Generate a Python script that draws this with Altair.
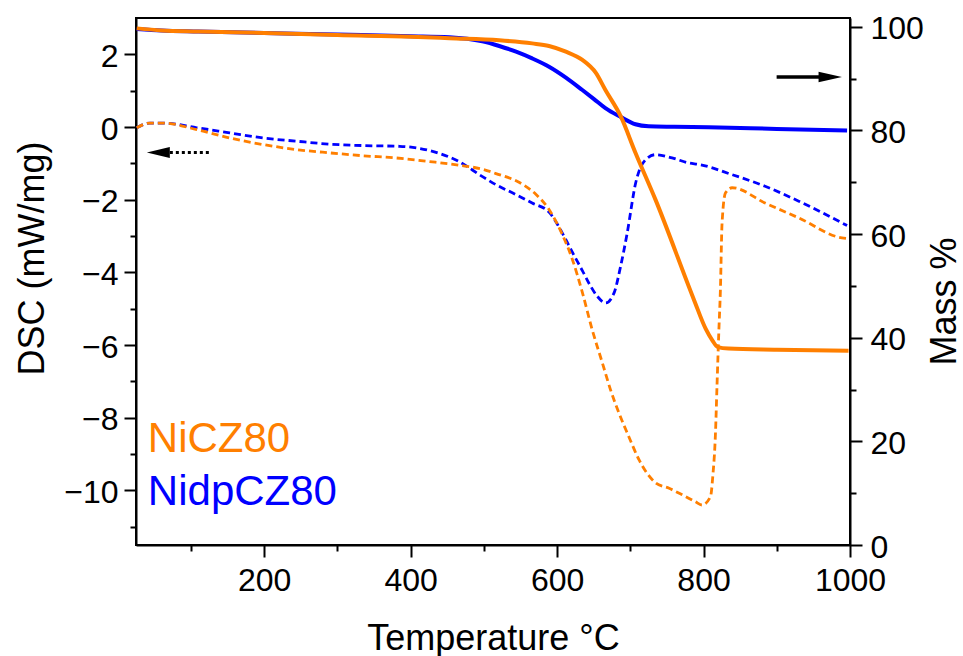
import altair as alt
import pandas as pd

# ---------------- data ----------------
T_MASS_NI = [26, 60, 110, 200, 300, 400, 453, 521, 566, 589, 612, 634.5, 653, 666, 687,
             707, 734.5, 787, 803, 812, 819.5, 834, 900, 998]
MASS_NI = [99.7, 99.3, 99.1, 98.8, 98.4, 98.1, 97.8, 97.4, 96.8, 96.3, 95.2, 93.6, 91.1, 87.8, 82.7,
           75.7, 66.6, 47.3, 41.7, 39.5, 38.2, 37.9, 37.7, 37.5]

T_MASS_NIDP = [26, 60, 110, 200, 300, 400, 453, 498, 521, 544, 566, 589, 612, 634.5, 650, 666,
               687, 707, 725, 760, 807, 900, 996]
MASS_NIDP = [99.6, 99.3, 99.1, 98.8, 98.5, 98.2, 98.0, 97.2, 96.3, 95.2, 93.9, 92.3, 90.2, 87.8,
             86.1, 84.3, 82.6, 81.2, 80.8, 80.7, 80.6, 80.3, 80.0]

T_DSC_NI = [26, 44, 62, 108, 153, 198, 244, 289, 335, 380, 426, 466, 500, 516.5, 548, 571, 589,
            607, 621, 634.5, 648, 662, 673, 684.5, 698, 712, 723, 734.5, 753, 771, 789, 798,
            809.5, 812.6, 816.3, 818.5, 820.8, 823, 825.3, 830, 839, 884, 930, 989, 998]
DSC_NI = [-0.02, 0.11, 0.11, -0.07, -0.30, -0.48, -0.62, -0.71, -0.79, -0.85, -0.95, -1.05, -1.17,
          -1.28, -1.52, -1.85, -2.27, -2.95, -3.65, -4.55, -5.58, -6.50, -7.23, -7.87, -8.52,
          -9.16, -9.53, -9.79, -9.94, -10.12, -10.31, -10.40, -10.17, -9.62, -8.42, -7.05,
          -5.67, -4.5, -2.64, -1.81, -1.67, -2.09, -2.50, -3.05, -3.07]

T_DSC_NIDP = [26, 44, 62, 108, 153, 198, 244, 289, 335, 385, 430, 466, 497, 516, 544, 566, 589,
              600, 612, 621, 634.5, 645, 655, 666.4, 677.7, 686.8, 695.8, 707.3, 720.9, 734.5,
              757, 780, 794, 839, 884, 930, 996]
DSC_NIDP = [-0.02, 0.11, 0.11, -0.02, -0.16, -0.30, -0.39, -0.47, -0.51, -0.53, -0.67, -0.95,
            -1.35, -1.58, -1.86, -2.09, -2.34, -2.66, -3.1, -3.45, -3.95, -4.35, -4.66, -4.84,
            -4.57, -3.83, -2.91, -1.54, -0.90, -0.76, -0.85, -0.99, -1.03, -1.31, -1.63, -2.04,
            -2.71]

X_MAJOR = [200, 400, 600, 800, 1000]
X_MINOR = [100, 300, 500, 700, 900]
DSC_MAJOR = [-10, -8, -6, -4, -2, 0, 2]
DSC_MINOR = [-11, -9, -7, -5, -3, -1, 1]
MASS_MAJOR = [0, 20, 40, 60, 80, 100]
MASS_MINOR = [10, 30, 50, 70, 90]

X_DOMAIN = [25, 1000]
DSC_DOMAIN = [-11.5, 3]
MASS_DOMAIN = [0, 101.7]

LABELS = ["NiCZ80", "NidpCZ80"]
LABEL_T = [41.2, 41.2]
LABEL_DSC = [-8.94, -10.40]

# arrows: left (DSC axis) and right (mass axis)
ARROW_L_SHAFT_T = [71.2, 128.4]
ARROW_L_HEAD_T = 55.5
ARROW_L_Y = -0.70
ARROW_R_SHAFT_T = [899.8, 960.5]
ARROW_R_HEAD_T = 973.0
ARROW_R_Y = 90.3

ORANGE = "#FF7F00"
BLUE = "#0000FF"
FONT = "Liberation Sans"

W, H = 714, 527

# ---------------- frames ----------------
def df(t, v):
    return pd.DataFrame({"T": t, "v": v})

xs = alt.Scale(domain=X_DOMAIN, nice=False, zero=False)
dsc_s = alt.Scale(domain=DSC_DOMAIN, nice=False, zero=False)
mass_s = alt.Scale(domain=MASS_DOMAIN, nice=False, zero=False)

common_axis = dict(labelFont=FONT, titleFont=FONT, labelColor="black", titleColor="black",
                   domainColor="black", tickColor="black", domainWidth=2, tickWidth=2,
                   grid=False, labelFlush=False, labelOverlap=False, titleFontWeight="normal")

x_major = alt.Axis(values=X_MAJOR, orient="bottom", format="d", tickSize=12, labelFontSize=32,
                   labelPadding=33, labelBaseline="alphabetic", title="Temperature °C",
                   titleFontSize=36, titleX=W / 2, titleY=104, titleAlign="center",
                   titleBaseline="alphabetic", **common_axis)
x_minor = alt.Axis(values=X_MINOR, orient="bottom", tickSize=6, labels=False, domain=False,
                   title="", **common_axis)
y_dsc_major = alt.Axis(values=DSC_MAJOR, orient="left", tickSize=12, labelFontSize=32,
                       labelPadding=6, labelOffset=2, title="DSC (mW/mg)", titleFontSize=36,
                       titleAngle=270, titleX=-93, titleY=240, titleAlign="center",
                       titleBaseline="alphabetic", **common_axis)
y_dsc_minor = alt.Axis(values=DSC_MINOR, orient="left", tickSize=6, labels=False,
                       domain=False, title="", **common_axis)
y_mass_major = alt.Axis(values=MASS_MAJOR, orient="right", tickSize=12, labelFontSize=32,
                        labelPadding=8, labelOffset=2, title="Mass %", titleFontSize=36,
                        titleAngle=270, titleX=105, titleY=283, titleAlign="center",
                        titleBaseline="alphabetic", **common_axis)
y_mass_minor = alt.Axis(values=MASS_MINOR, orient="right", tickSize=6, labels=False,
                        domain=False, title="", **common_axis)

DASH = [7, 4]
DW = 2.8

blue_dsc = alt.Chart(df(T_DSC_NIDP, DSC_NIDP)).mark_line(
    color=BLUE, strokeWidth=DW, strokeDash=DASH, interpolate="monotone").encode(
    x=alt.X("T:Q", scale=xs, axis=x_major),
    y=alt.Y("v:Q", scale=dsc_s, axis=y_dsc_major))

orange_dsc = alt.Chart(df(T_DSC_NI, DSC_NI)).mark_line(
    color=ORANGE, strokeWidth=DW, strokeDash=DASH, interpolate="monotone").encode(
    x=alt.X("T:Q", scale=xs, axis=None),
    y=alt.Y("v:Q", scale=dsc_s, axis=None))

dsc_minor = alt.Chart(df(T_DSC_NI, DSC_NI)).mark_line(opacity=0).encode(
    x=alt.X("T:Q", scale=xs, axis=x_minor),
    y=alt.Y("v:Q", scale=dsc_s, axis=y_dsc_minor))

blue_mass = alt.Chart(df(T_MASS_NIDP, MASS_NIDP)).mark_line(
    color=BLUE, strokeWidth=4, interpolate="monotone").encode(
    x=alt.X("T:Q", scale=xs, axis=None),
    y=alt.Y("v:Q", scale=mass_s, axis=y_mass_major))

orange_mass = alt.Chart(df(T_MASS_NI, MASS_NI)).mark_line(
    color=ORANGE, strokeWidth=4, interpolate="monotone").encode(
    x=alt.X("T:Q", scale=xs, axis=None),
    y=alt.Y("v:Q", scale=mass_s, axis=None))

mass_minor = alt.Chart(df(T_MASS_NI, MASS_NI)).mark_line(opacity=0).encode(
    x=alt.X("T:Q", scale=xs, axis=None),
    y=alt.Y("v:Q", scale=mass_s, axis=y_mass_minor))

# annotations
lab_df = pd.DataFrame({"T": LABEL_T, "v": LABEL_DSC, "name": LABELS})
labels = alt.Chart(lab_df).mark_text(
    font=FONT, fontSize=42, align="left", baseline="alphabetic").encode(
    x=alt.X("T:Q", scale=xs, axis=None),
    y=alt.Y("v:Q", scale=dsc_s, axis=None),
    text="name:N",
    color=alt.Color("name:N", scale=alt.Scale(domain=LABELS, range=[ORANGE, BLUE]), legend=None))

arrL_shaft = alt.Chart(pd.DataFrame({"t1": [ARROW_L_SHAFT_T[0]], "t2": [ARROW_L_SHAFT_T[1]],
                                     "v": [ARROW_L_Y]})).mark_rule(
    color="black", strokeWidth=3, strokeDash=[3, 3]).encode(
    x=alt.X("t1:Q", scale=xs, axis=None), x2="t2:Q",
    y=alt.Y("v:Q", scale=dsc_s, axis=None))
arrL_head = alt.Chart(pd.DataFrame({"T": [ARROW_L_HEAD_T], "v": [ARROW_L_Y]})).mark_point(
    shape="M -1 0 L 1 -0.48 L 1 0.48 Z", size=529, filled=True, color="black", opacity=1).encode(
    x=alt.X("T:Q", scale=xs, axis=None),
    y=alt.Y("v:Q", scale=dsc_s, axis=None))

arrR_shaft = alt.Chart(pd.DataFrame({"t1": [ARROW_R_SHAFT_T[0]], "t2": [ARROW_R_SHAFT_T[1]],
                                     "v": [ARROW_R_Y]})).mark_rule(
    color="black", strokeWidth=3.5).encode(
    x=alt.X("t1:Q", scale=xs, axis=None), x2="t2:Q",
    y=alt.Y("v:Q", scale=mass_s, axis=None))
arrR_head = alt.Chart(pd.DataFrame({"T": [ARROW_R_HEAD_T], "v": [ARROW_R_Y]})).mark_point(
    shape="M 1 0 L -1 -0.45 L -1 0.45 Z", size=547, filled=True, color="black", opacity=1).encode(
    x=alt.X("T:Q", scale=xs, axis=None),
    y=alt.Y("v:Q", scale=mass_s, axis=None))

chart = alt.layer(
    dsc_minor, mass_minor, blue_dsc, orange_dsc, blue_mass, orange_mass,
    labels, arrL_shaft, arrL_head, arrR_shaft, arrR_head
).resolve_scale(y="independent").resolve_axis(x="independent", y="independent").properties(
    width=W, height=H,
    autosize=alt.AutoSizeParams(type="none"),
    padding={"left": 136, "top": 18, "right": 113, "bottom": 111},
    background="white",
).configure_view(stroke="black", strokeWidth=2)

chart.save("out.html", embed_options={"renderer": "svg", "actions": False})
